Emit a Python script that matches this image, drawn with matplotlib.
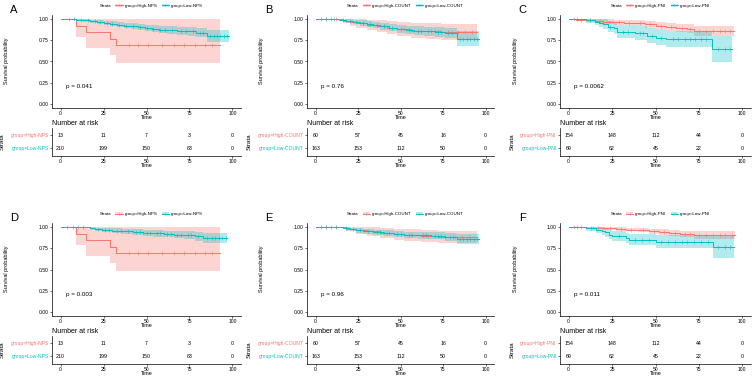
"""Six Kaplan-Meier panels with number-at-risk tables."""
import matplotlib
matplotlib.use("Agg")
import matplotlib.pyplot as plt
from matplotlib.lines import Line2D
from matplotlib.patches import Patch
import numpy as np

plt.rcParams["font.family"] = ["Liberation Sans", "DejaVu Sans"]

W, H = 753, 378
RED = "#F8766D"
TEAL = "#00BFC4"

RISK_TIMES = [0, 25, 50, 75, 100]

# ---- panel A / D : NPS ----
A_HIGH_T = [0, 9, 15, 29, 32, 93]
A_HIGH_S = [1, 0.923, 0.846, 0.769, 0.692, 0.692]
A_HIGH_LO = [1, 0.79, 0.665, 0.58, 0.48, 0.48]
A_HIGH_HI = [1, 1, 1, 1, 1, 1]
A_HIGH_CENS = [40, 45, 51, 59, 66, 72, 78, 84, 88]
A_LOW_T = [0, 9, 13, 17, 21, 25, 29, 33, 37, 41, 45, 49, 53, 57, 62, 68, 74, 79, 85, 98]
A_LOW_S = [1, 0.995, 0.985, 0.975, 0.965, 0.955, 0.945, 0.935, 0.925, 0.92, 0.91,
           0.895, 0.885, 0.878, 0.87, 0.862, 0.855, 0.84, 0.80, 0.80]
A_LOW_LO = [1, 0.985, 0.97, 0.955, 0.94, 0.928, 0.915, 0.903, 0.891, 0.885, 0.873,
            0.856, 0.844, 0.835, 0.826, 0.816, 0.806, 0.787, 0.73, 0.73]
A_LOW_HI = [1, 1, 1, 0.995, 0.99, 0.983, 0.976, 0.968, 0.96, 0.956, 0.949,
            0.936, 0.928, 0.922, 0.916, 0.91, 0.906, 0.897, 0.875, 0.875]
A_LOW_CENS = [5, 8, 12, 16, 20, 23, 27, 30, 34, 38, 42, 46, 50, 54, 58, 61, 65, 70,
              73, 77, 81, 83, 87, 89, 91, 93, 95, 97]
A_RISK_HIGH = [13, 11, 7, 3, 0]
A_RISK_LOW = [210, 199, 150, 63, 0]

D_LOW_T = [0, 17, 20, 24, 30, 36, 42, 48, 54, 60, 66, 72, 78, 83, 97]
D_LOW_S = [1, 0.985, 0.975, 0.965, 0.958, 0.952, 0.943, 0.935, 0.927, 0.92, 0.913,
           0.905, 0.895, 0.875, 0.875]
D_LOW_LO = [1, 0.969, 0.954, 0.94, 0.93, 0.922, 0.91, 0.9, 0.889, 0.879, 0.869,
            0.858, 0.843, 0.815, 0.815]
D_LOW_HI = [1, 1, 0.996, 0.99, 0.986, 0.982, 0.976, 0.971, 0.966, 0.961, 0.957,
            0.952, 0.947, 0.935, 0.935]
D_LOW_CENS = [4, 7, 10, 13, 22, 26, 28, 33, 35, 39, 44, 46, 50, 52, 56, 58, 62, 64,
              68, 70, 74, 76, 80, 85, 88, 90, 92, 94, 96]

# ---- panel B / E : COUNT ----
B_HIGH_T = [0, 16, 20, 24, 30, 36, 42, 48, 56, 65, 74, 95]
B_HIGH_S = [1, 0.983, 0.966, 0.95, 0.933, 0.915, 0.898, 0.88, 0.863, 0.855, 0.845, 0.845]
B_HIGH_LO = [1, 0.95, 0.92, 0.895, 0.87, 0.845, 0.82, 0.80, 0.78, 0.77, 0.76, 0.76]
B_HIGH_HI = [1, 1, 1, 1, 0.995, 0.985, 0.975, 0.965, 0.955, 0.95, 0.945, 0.945]
B_HIGH_CENS = [6, 12, 28, 40, 52, 60, 70, 78, 84, 88, 92]
B_LOW_T = [0, 14, 18, 22, 26, 30, 34, 38, 43, 48, 53, 58, 64, 70, 76, 83, 96]
B_LOW_S = [1, 0.994, 0.981, 0.968, 0.955, 0.942, 0.93, 0.915, 0.90, 0.887, 0.875,
           0.866, 0.857, 0.847, 0.838, 0.77, 0.77]
B_LOW_LO = [1, 0.982, 0.96, 0.942, 0.925, 0.908, 0.893, 0.875, 0.857, 0.84, 0.825,
            0.814, 0.803, 0.79, 0.777, 0.685, 0.685]
B_LOW_HI = [1, 1, 1, 0.994, 0.985, 0.977, 0.967, 0.955, 0.943, 0.934, 0.925,
            0.918, 0.911, 0.904, 0.899, 0.865, 0.865]
B_LOW_CENS = [3, 6, 9, 11, 16, 20, 24, 28, 32, 36, 40, 45, 50, 55, 60, 62, 66, 68,
              72, 74, 78, 80, 85, 87, 89, 91, 93, 95]
B_RISK_HIGH = [60, 57, 45, 16, 0]
B_RISK_LOW = [163, 153, 112, 50, 0]

E_HIGH_T = [0, 18, 24, 30, 38, 46, 52, 62, 72, 95]
E_HIGH_S = [1, 0.983, 0.966, 0.95, 0.933, 0.915, 0.905, 0.895, 0.885, 0.885]
E_HIGH_LO = [1, 0.95, 0.922, 0.897, 0.873, 0.848, 0.835, 0.822, 0.81, 0.81]
E_HIGH_HI = [1, 1, 1, 1, 0.993, 0.982, 0.975, 0.968, 0.96, 0.96]
E_HIGH_CENS = [6, 12, 34, 42, 56, 66, 76, 82, 86, 90]
E_LOW_T = [0, 16, 20, 24, 28, 34, 40, 46, 52, 60, 68, 76, 83, 96]
E_LOW_S = [1, 0.994, 0.975, 0.962, 0.95, 0.94, 0.93, 0.92, 0.91, 0.905, 0.897,
           0.887, 0.86, 0.86]
E_LOW_LO = [1, 0.982, 0.955, 0.937, 0.922, 0.91, 0.897, 0.885, 0.873, 0.866, 0.855,
            0.843, 0.80, 0.80]
E_LOW_HI = [1, 1, 0.995, 0.987, 0.978, 0.97, 0.963, 0.955, 0.947, 0.944, 0.939,
            0.931, 0.92, 0.92]
E_LOW_CENS = [3, 6, 9, 12, 18, 22, 26, 31, 36, 38, 43, 48, 50, 55, 57, 63, 65, 70,
              72, 74, 79, 81, 85, 87, 89, 91, 93, 95]

# ---- panel C / F : PNI ----
C_HIGH_T = [0, 4, 10, 15, 20, 26, 32, 38, 44, 50, 56, 62, 68, 72, 95]
C_HIGH_S = [1, 0.993, 0.987, 0.98, 0.973, 0.966, 0.96, 0.953, 0.94, 0.925, 0.91,
            0.898, 0.887, 0.862, 0.862]
C_HIGH_LO = [1, 0.98, 0.97, 0.958, 0.947, 0.937, 0.928, 0.918, 0.902, 0.883, 0.864,
             0.848, 0.834, 0.80, 0.80]
C_HIGH_HI = [1, 1, 1, 1, 0.998, 0.994, 0.99, 0.986, 0.978, 0.967, 0.956,
             0.948, 0.94, 0.925, 0.925]
C_HIGH_CENS = [3, 7, 12, 18, 23, 29, 35, 41, 47, 53, 59, 65, 70, 75, 79, 83, 87,
               90, 93]
C_LOW_T = [0, 10, 15, 17.5, 20, 22.5, 26, 28, 38, 45, 50, 56, 82.5, 94]
C_LOW_S = [1, 0.985, 0.97, 0.955, 0.94, 0.91, 0.895, 0.85, 0.835, 0.80, 0.78, 0.765,
           0.646, 0.646]
C_LOW_LO = [1, 0.957, 0.93, 0.905, 0.885, 0.848, 0.83, 0.78, 0.76, 0.72, 0.695,
            0.675, 0.49, 0.49]
C_LOW_HI = [1, 1, 1, 1, 0.998, 0.98, 0.97, 0.935, 0.925, 0.895, 0.88, 0.865,
            0.80, 0.80]
C_LOW_CENS = [5, 12, 24, 31, 34, 41, 43, 48, 53, 60, 63, 67, 70, 73, 76, 79, 86,
              90, 93]
C_RISK_HIGH = [154, 148, 112, 44, 0]
C_RISK_LOW = [69, 62, 45, 22, 0]

F_HIGH_T = [0, 10, 20, 27, 33, 40, 46, 52, 58, 64, 72, 96]
F_HIGH_S = [1, 0.995, 0.988, 0.98, 0.973, 0.963, 0.953, 0.943, 0.933, 0.923, 0.91, 0.91]
F_HIGH_LO = [1, 0.985, 0.972, 0.961, 0.951, 0.938, 0.925, 0.913, 0.9, 0.888, 0.865, 0.865]
F_HIGH_HI = [1, 1, 1, 0.998, 0.994, 0.988, 0.982, 0.975, 0.968, 0.96, 0.955, 0.955]
F_HIGH_CENS = [3, 7, 14, 17, 24, 30, 36, 43, 49, 55, 61, 67, 70, 75, 79, 83, 87,
               90, 94]
F_LOW_T = [0, 10, 16, 19, 21, 23, 25, 33, 35, 50, 83, 95]
F_LOW_S = [1, 0.985, 0.97, 0.955, 0.94, 0.912, 0.897, 0.87, 0.85, 0.83, 0.77, 0.77]
F_LOW_LO = [1, 0.957, 0.93, 0.91, 0.89, 0.857, 0.84, 0.81, 0.785, 0.76, 0.64, 0.64]
F_LOW_HI = [1, 1, 1, 1, 0.995, 0.97, 0.96, 0.935, 0.92, 0.905, 0.90, 0.90]
F_LOW_CENS = [5, 13, 29, 38, 42, 46, 53, 57, 61, 65, 68, 72, 76, 80, 86, 90, 93]

P_VALUES = ["p = 0.041", "p = 0.76", "p = 0.0062", "p = 0.003", "p = 0.96", "p = 0.011"]
LETTERS = ["A", "B", "C", "D", "E", "F"]
GROUPS = ["NPS", "COUNT", "PNI", "NPS", "COUNT", "PNI"]

PANELS = [
    ((A_HIGH_T, A_HIGH_S, A_HIGH_LO, A_HIGH_HI, A_HIGH_CENS),
     (A_LOW_T, A_LOW_S, A_LOW_LO, A_LOW_HI, A_LOW_CENS), A_RISK_HIGH, A_RISK_LOW),
    ((B_HIGH_T, B_HIGH_S, B_HIGH_LO, B_HIGH_HI, B_HIGH_CENS),
     (B_LOW_T, B_LOW_S, B_LOW_LO, B_LOW_HI, B_LOW_CENS), B_RISK_HIGH, B_RISK_LOW),
    ((C_HIGH_T, C_HIGH_S, C_HIGH_LO, C_HIGH_HI, C_HIGH_CENS),
     (C_LOW_T, C_LOW_S, C_LOW_LO, C_LOW_HI, C_LOW_CENS), C_RISK_HIGH, C_RISK_LOW),
    ((A_HIGH_T, A_HIGH_S, A_HIGH_LO, A_HIGH_HI, A_HIGH_CENS),
     (D_LOW_T, D_LOW_S, D_LOW_LO, D_LOW_HI, D_LOW_CENS), A_RISK_HIGH, A_RISK_LOW),
    ((E_HIGH_T, E_HIGH_S, E_HIGH_LO, E_HIGH_HI, E_HIGH_CENS),
     (E_LOW_T, E_LOW_S, E_LOW_LO, E_LOW_HI, E_LOW_CENS), B_RISK_HIGH, B_RISK_LOW),
    ((F_HIGH_T, F_HIGH_S, F_HIGH_LO, F_HIGH_HI, F_HIGH_CENS),
     (F_LOW_T, F_LOW_S, F_LOW_LO, F_LOW_HI, F_LOW_CENS), C_RISK_HIGH, C_RISK_LOW),
]

# pixel layout: column x-extents, row y-offset
COLS = [(52, 241), (307, 494), (560, 751)]
ROW_OFF = [0, 208]


def add_px_axes(fig, l, t, r, b):
    return fig.add_axes([l / W, 1 - b / H, (r - l) / W, (b - t) / H])


def style_axes(ax):
    for s in ["top", "right"]:
        ax.spines[s].set_visible(False)
    for s in ["left", "bottom"]:
        ax.spines[s].set_linewidth(0.5)
    ax.tick_params(length=1.5, width=0.4, labelsize=3.6, pad=1)
    ax.set_xlim(-5, 105)
    ax.set_xticks(RISK_TIMES)


def draw_curve(ax, curve, color):
    t, s, lo, hi, cens = curve
    ax.fill_between(t, lo, hi, step="post", color=color, alpha=0.3, lw=0)
    ax.step(t, s, where="post", color=color, lw=0.7)
    t_arr, s_arr = np.array(t), np.array(s)
    idx = np.searchsorted(t_arr, cens, side="right") - 1
    ax.plot(cens, s_arr[idx], ls="none", marker="+", ms=2.2, mew=0.4, color=color)


fig = plt.figure(figsize=(W / 100, H / 100), dpi=100)

for i, (high, low, r_high, r_low) in enumerate(PANELS):
    col, row = i % 3, i // 3
    l, r = COLS[col]
    off = ROW_OFF[row]
    lab_high = f"group=High-{GROUPS[i]}"
    lab_low = f"group=Low-{GROUPS[i]}"

    ax = add_px_axes(fig, l, 15 + off, r, 108 + off)
    style_axes(ax)
    draw_curve(ax, high, RED)
    draw_curve(ax, low, TEAL)
    ax.set_ylim(-0.05, 1.05)
    ax.set_yticks([0, 0.25, 0.5, 0.75, 1.0])
    ax.set_yticklabels(["0.00", "0.25", "0.50", "0.75", "1.00"])
    ax.set_xlabel("Time", fontsize=4, labelpad=-1)
    ax.text(3, 0.2, P_VALUES[i], fontsize=4.5, ha="left", va="center")
    fig.text((l - 45) / W, 1 - (61 + off) / H, "Survival probability", rotation=90,
             fontsize=4, ha="center", va="center")
    fig.text((l - 38) / W, 1 - (10 + off) / H, LETTERS[i], fontsize=8,
             ha="center", va="center")

    handles = [Line2D([], [], ls="none"),
               (Patch(facecolor=RED, alpha=0.3, lw=0),
                Line2D([], [], color=RED, lw=0.7, marker="+", ms=2, mew=0.4)),
               (Patch(facecolor=TEAL, alpha=0.3, lw=0),
                Line2D([], [], color=TEAL, lw=0.7, marker="+", ms=2, mew=0.4))]
    fig.legend(handles, ["Strata", lab_high, lab_low], ncol=3, frameon=False,
               loc="center", bbox_to_anchor=((l + r) / 2 / W, 1 - (6 + off) / H),
               fontsize=3.2, handlelength=1.6, handletextpad=0.4, columnspacing=1.0)

    # risk table
    tx = add_px_axes(fig, l, 128 + off, r, 156 + off)
    style_axes(tx)
    tx.set_ylim(0.4, 2.55)
    for x, v in zip(RISK_TIMES, r_high):
        tx.text(x, 2, str(v), fontsize=3.8, ha="center", va="center")
    for x, v in zip(RISK_TIMES, r_low):
        tx.text(x, 1, str(v), fontsize=3.8, ha="center", va="center")
    tx.set_yticks([2, 1])
    tx.set_yticklabels([lab_high, lab_low])
    for tl, c in zip(tx.get_yticklabels(), [RED, TEAL]):
        tl.set_color(c)
    tx.set_xlabel("Time", fontsize=4, labelpad=-1)
    tx.set_ylabel("Strata", fontsize=4.5)
    tx.text(0, 1.02, "Number at risk", transform=tx.transAxes, fontsize=5,
            ha="left", va="bottom")

fig.savefig("out.png", dpi=100)
